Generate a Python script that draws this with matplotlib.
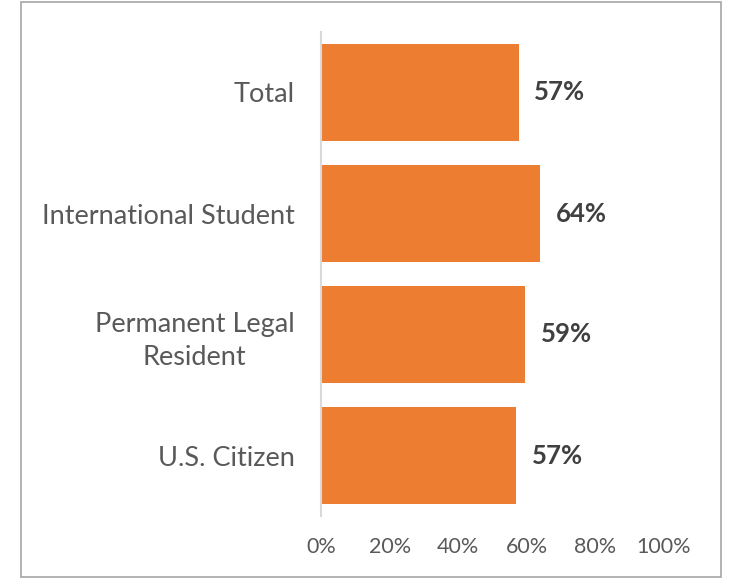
import matplotlib
matplotlib.use("Agg")
import matplotlib.pyplot as plt
from matplotlib.patches import Rectangle
import numpy as np

# --- Data ---
categories = ['Total', 'International Student', 'Permanent Legal\nResident', 'U.S. Citizen']
values = [57.6, 63.9, 59.4, 56.9]
value_labels = ['57%', '64%', '59%', '57%']
x_ticks = [0, 20, 40, 60, 80, 100]

bar_color = '#ED7D31'
label_color = '#595959'
value_color = '#404040'

plt.rcParams['font.family'] = ['Lato', 'DejaVu Sans']

fig = plt.figure(figsize=(7.34, 5.78), dpi=100, facecolor='white')
ax = fig.add_axes([321 / 734, 1 - 516 / 578, (664 - 321) / 734, (516 - 32) / 578])

y = np.arange(len(categories))[::-1]
bars = ax.barh(y, values, height=0.8, color=bar_color)

for bar, lab in zip(bars, value_labels):
    ax.text(bar.get_width() + 4.6, bar.get_y() + bar.get_height() / 2, lab,
            ha='left', va='center', fontsize=18.5, fontweight='bold', color=value_color)

ax.set_xlim(0, 100)
ax.set_ylim(-0.5, len(categories) - 0.5)
ax.set_xticks(x_ticks)
ax.set_xticklabels([f"{t}%" for t in x_ticks], fontsize=15.5, color=label_color)
ax.set_yticks(y)
ax.set_yticklabels(categories, fontsize=19.5, color=label_color, linespacing=1.4)
for t in ax.get_yticklabels():
    t.set_multialignment('center')
ax.tick_params(axis='both', length=0)
ax.tick_params(axis='y', pad=19)
ax.tick_params(axis='x', pad=15)

for s in ['top', 'right', 'bottom']:
    ax.spines[s].set_visible(False)
ax.spines['left'].set_color('#D9D9D9')
ax.spines['left'].set_linewidth(1.5)

# chart border
fig.patches.append(Rectangle((21 / 734, 1 / 578), 700 / 734, 575 / 578,
                             transform=fig.transFigure, fill=False,
                             edgecolor='#A6A6A6', linewidth=1.2))

fig.savefig('out.png', dpi=100, facecolor='white')
